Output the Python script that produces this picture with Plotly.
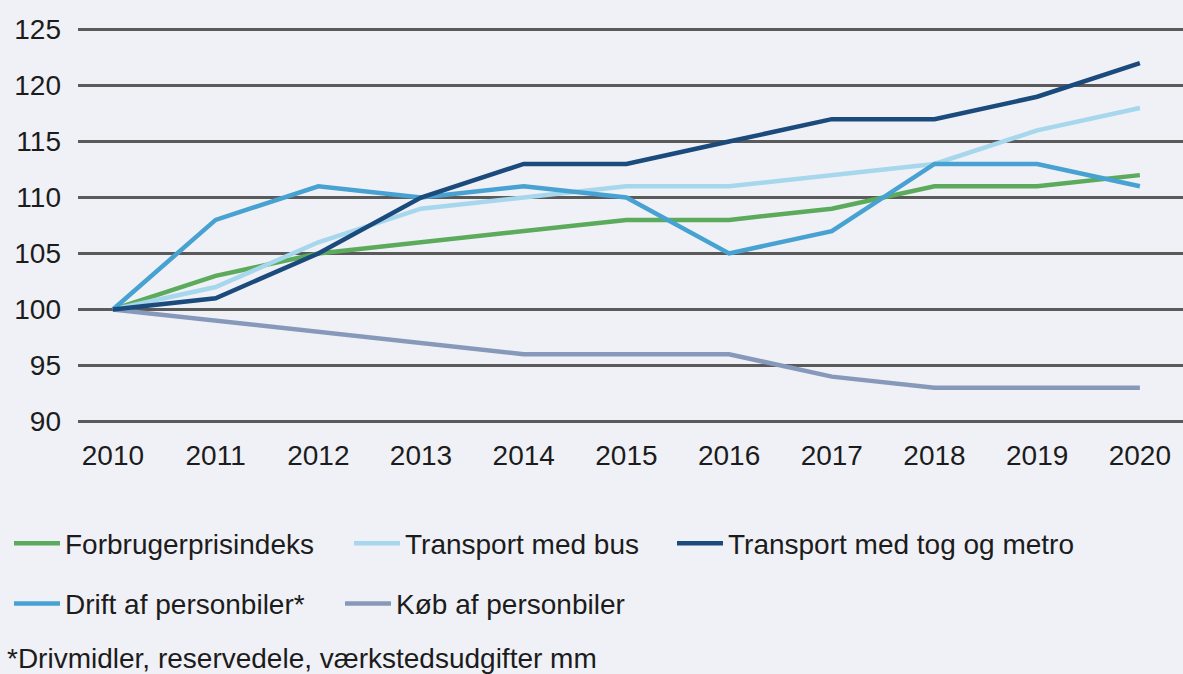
import plotly.graph_objects as go

years = [2010, 2011, 2012, 2013, 2014, 2015, 2016, 2017, 2018, 2019, 2020]
forbrugerprisindeks = [100, 103, 105, 106, 107, 108, 108, 109, 111, 111, 112]
transport_bus = [100, 102, 106, 109, 110, 111, 111, 112, 113, 116, 118]
transport_tog = [100, 101, 105, 110, 113, 113, 115, 117, 117, 119, 122]
drift_personbiler = [100, 108, 111, 110, 111, 110, 105, 107, 113, 113, 111]
koeb_personbiler = [100, 99, 98, 97, 96, 96, 96, 94, 93, 93, 93]

series_names = ["Forbrugerprisindeks", "Transport med bus", "Transport med tog og metro",
                "Drift af personbiler*", "Køb af personbiler"]
series_values = [forbrugerprisindeks, transport_bus, transport_tog, drift_personbiler, koeb_personbiler]
colors = ["#5caa5c", "#a6d7ec", "#1b4a7c", "#47a2d2", "#8799ba"]
footnote = "*Drivmidler, reservedele, værkstedsudgifter mm"

y_ticks = [90, 95, 100, 105, 110, 115, 120, 125]

W, H = 1183, 674
L, R = 78, 0
T, B = 24.4, 247.4
plot_w = W - L - R
plot_h = H - T - B

def px_x(px):
    return (px - L) / plot_w

def px_y(py):
    return (H - B - py) / plot_h

# legend positions (pixel coordinates of each entry's left edge & vertical centre)
legend_pos = [(9, 543), (349, 543), (672, 543), (9, 603), (340, 603)]

BG = "#f0f1f6"
FONT = "Liberation Sans, Arial, sans-serif"
TXT = "#1c1c1c"

fig = go.Figure()
draw_order = [4, 0, 1, 3, 2]
for i in draw_order:
    lname = "legend" if i == 0 else f"legend{i+1}"
    fig.add_trace(go.Scatter(
        x=years, y=series_values[i], name=series_names[i], mode="lines",
        line=dict(color=colors[i], width=4.5),
        legend=lname, showlegend=True,
    ))

layout_legends = {}
for i, (lx, ly) in enumerate(legend_pos):
    key = "legend" if i == 0 else f"legend{i+1}"
    layout_legends[key] = dict(
        x=px_x(lx), y=px_y(ly), xanchor="left", yanchor="middle",
        orientation="h", bgcolor="rgba(0,0,0,0)", borderwidth=0,
        font=dict(family=FONT, size=28, color=TXT),
        itemwidth=46,
    )

fig.update_layout(
    width=W, height=H,
    margin=dict(l=L, r=R, t=T, b=B, pad=0),
    paper_bgcolor=BG, plot_bgcolor=BG,
    font=dict(family=FONT, size=28, color=TXT),
    xaxis=dict(range=[2009.66, 2020.42], tickmode="array", tickvals=years,
               ticktext=[str(y) for y in years], showgrid=False, zeroline=False,
               showline=False, ticks="", ticklabelstandoff=9,
               tickfont=dict(family=FONT, size=28, color=TXT)),
    yaxis=dict(range=[89.5, 125.5], tickmode="array", tickvals=y_ticks,
               showgrid=True, gridcolor="#5a5a5a", gridwidth=3, zeroline=False,
               showline=False, ticks="", ticklabelstandoff=16,
               tickfont=dict(family=FONT, size=28, color=TXT)),
    annotations=[dict(text=footnote, x=px_x(5), y=px_y(658), xref="paper", yref="paper",
                      xanchor="left", yanchor="middle", showarrow=False,
                      font=dict(family=FONT, size=28, color=TXT))],
    **layout_legends,
)

fig.write_html("out.html", config={"displayModeBar": False},
               post_script="document.body.style.margin='0';document.body.style.overflow='hidden';")
